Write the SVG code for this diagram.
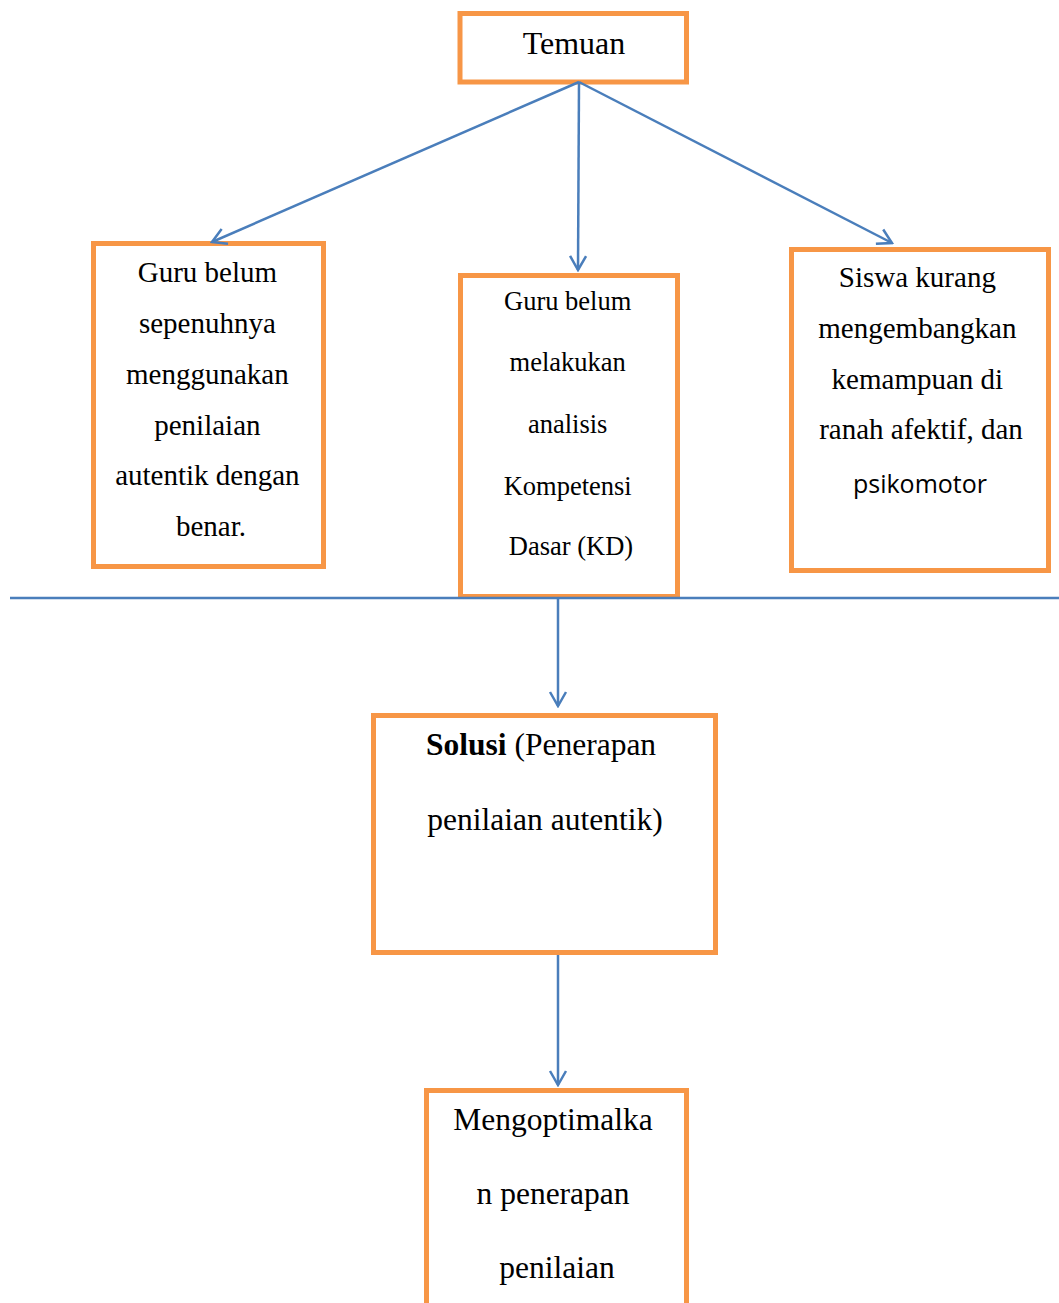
<svg xmlns="http://www.w3.org/2000/svg" width="1059" height="1303" viewBox="0 0 1059 1303">
<style>
.box{fill:#fff;stroke:#f79646;stroke-width:5}
.t{font-family:"Liberation Serif","Times New Roman",serif;fill:#000;text-anchor:middle}
.s{font-family:"Open Sans","Noto Sans",sans-serif;fill:#000;text-anchor:middle}
.c{stroke:#4a7ebb;stroke-width:2.5;fill:none}
</style>
<defs>
<marker id="arr" viewBox="0 0 20 20" refX="18" refY="10" markerWidth="20" markerHeight="20" markerUnits="userSpaceOnUse" orient="auto">
<path d="M4,2 L18,10 L4,18" fill="none" stroke="#4a7ebb" stroke-width="2.5"/>
</marker>
</defs>
<g id="temuan">
<rect class="box" x="460" y="13.5" width="226.5" height="68.5"/>
<text class="t" x="574" y="54" font-size="32">Temuan</text>
</g>
<g id="node1">
<rect class="box" x="93.5" y="243.5" width="230" height="323"/>
<text class="t" font-size="29">
<tspan x="211" y="282">Guru belum</tspan>
<tspan x="211" y="333">sepenuhnya</tspan>
<tspan x="211" y="384">menggunakan</tspan>
<tspan x="211" y="435">penilaian</tspan>
<tspan x="211" y="485">autentik dengan</tspan>
<tspan x="211" y="536">benar.</tspan>
</text>
</g>
<g id="node2">
<rect class="box" x="460.5" y="275.5" width="217" height="321"/>
<text class="t" font-size="26.5">
<tspan x="571" y="310">Guru belum</tspan>
<tspan x="571" y="371">melakukan</tspan>
<tspan x="571" y="433">analisis</tspan>
<tspan x="571" y="495">Kompetensi</tspan>
<tspan x="571" y="555">Dasar (KD)</tspan>
</text>
</g>
<g id="node3">
<rect class="box" x="791.5" y="249.5" width="257" height="321"/>
<text class="t" font-size="29">
<tspan x="921" y="287">Siswa kurang</tspan>
<tspan x="921" y="338">mengembangkan</tspan>
<tspan x="921" y="389">kemampuan di</tspan>
<tspan x="921" y="439">ranah afektif, dan</tspan>
</text>
<text class="s" x="920" y="493" font-size="25">psikomotor</text>
</g>
<g id="solusi">
<rect class="box" x="373.5" y="715.5" width="342" height="237"/>
<text class="t" font-size="31.5">
<tspan x="545" y="755"><tspan font-weight="bold">Solusi</tspan> (Penerapan</tspan>
<tspan x="545" y="830">penilaian autentik)</tspan>
</text>
</g>
<g id="hasil">
<rect class="box" x="426.5" y="1090.5" width="260" height="240"/>
<text class="t" font-size="31.5">
<tspan x="557" y="1130">Mengoptimalka</tspan>
<tspan x="557" y="1204">n penerapan</tspan>
<tspan x="557" y="1278">penilaian</tspan>
</text>
</g>
<g id="connectors">
<line class="c" x1="10" y1="598" x2="1059" y2="598"/>
<line class="c" x1="579" y1="82" x2="212" y2="242" marker-end="url(#arr)"/>
<line class="c" x1="579" y1="82" x2="578" y2="270" marker-end="url(#arr)"/>
<line class="c" x1="579" y1="82" x2="892" y2="243" marker-end="url(#arr)"/>
<line class="c" x1="558" y1="599" x2="558" y2="706" marker-end="url(#arr)"/>
<line class="c" x1="558" y1="955" x2="558" y2="1085" marker-end="url(#arr)"/>
</g>
</svg>
